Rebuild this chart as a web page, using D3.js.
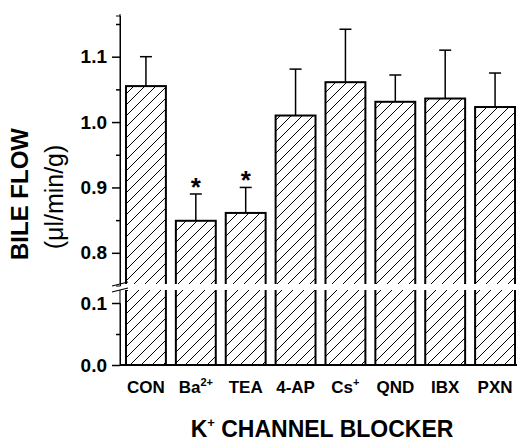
<!DOCTYPE html>
<html>
<head>
<meta charset="utf-8">
<script src="https://cdn.jsdelivr.net/npm/d3@7"></script>
<style>
  body { margin: 0; background: #fff; }
  text { font-family: Arial, "Liberation Sans", sans-serif; }
</style>
</head>
<body>
<div id="chart"></div>
<script>
// bile flow by K+ channel blocker (broken y axis)
var blockers = ["CON", "Ba", "TEA", "4-AP", "Cs", "QND", "IBX", "PXN"];
var blockerSup = ["", "2+", "", "", "+", "", "", ""];
var flow = [1.055, 0.849, 0.861, 1.010, 1.061, 1.031, 1.036, 1.023];
var sem = [0.045, 0.041, 0.039, 0.071, 0.081, 0.041, 0.074, 0.052];
var signif = [false, true, true, false, false, false, false, false];
var upperTicks = [0.8, 0.9, 1.0, 1.1];
var upperMinor = [0.85, 0.95, 1.05, 1.15];
var lowerTicks = [0.0, 0.1];
var lowerMinor = [0.05];

var W = 518, H = 444;
var axX = 120, y0 = 365, breakTop = 284, breakBot = 290;

var svg = d3.select("#chart").append("svg")
  .attr("width", W).attr("height", H);

var defs = svg.append("defs");
var pat = defs.append("pattern")
  .attr("id", "hatch")
  .attr("patternUnits", "userSpaceOnUse")
  .attr("width", 11).attr("height", 11);
pat.append("rect").attr("width", 11).attr("height", 11).attr("fill", "#fff");
pat.append("path")
  .attr("d", "M-1,12 L12,-1 M-3,3 L3,-3 M8,14 L14,8")
  .attr("stroke", "#000").attr("stroke-width", 1);

var x = d3.scaleBand().domain(blockers).range([121, 520]).paddingInner(0.2).paddingOuter(0.1);
var yUp = d3.scaleLinear().domain([0.75, 1.163]).range([285.5, 15.5]);
var yLo = d3.scaleLinear().domain([0, 0.1]).range([y0, 303]);

// bars (drawn full height, the break gap is painted over them)
svg.selectAll("rect.bar")
  .data(blockers).enter()
  .append("rect")
  .attr("class", "bar")
  .attr("x", function(d) { return x(d); })
  .attr("width", x.bandwidth())
  .attr("y", function(d, i) { return yUp(flow[i]); })
  .attr("height", function(d, i) { return y0 - yUp(flow[i]); })
  .attr("fill", "url(#hatch)")
  .attr("stroke", "#000")
  .attr("stroke-width", 2);

// error bars (upper only)
var err = svg.append("g").attr("stroke", "#000").attr("stroke-width", 1.5);
blockers.forEach(function(d, i) {
  var cx = x(d) + x.bandwidth() / 2;
  err.append("line")
    .attr("x1", cx).attr("x2", cx)
    .attr("y1", yUp(flow[i])).attr("y2", yUp(flow[i] + sem[i]));
  err.append("line")
    .attr("x1", cx - 6).attr("x2", cx + 6)
    .attr("y1", yUp(flow[i] + sem[i])).attr("y2", yUp(flow[i] + sem[i]));
  if (signif[i]) {
    svg.append("text")
      .attr("x", cx).attr("y", yUp(flow[i] + sem[i]) + 2)
      .attr("text-anchor", "middle")
      .attr("font-size", 26).attr("font-weight", "bold")
      .text("*");
  }
});

// white gap for the axis break
svg.append("rect")
  .attr("x", axX - 10).attr("y", breakTop)
  .attr("width", W).attr("height", breakBot - breakTop)
  .attr("fill", "#fff");

// upper y axis
var axUp = svg.append("g").attr("transform", "translate(" + axX + ",0)")
  .call(d3.axisLeft(yUp).tickValues(upperTicks).tickSize(8).tickPadding(5)
    .tickFormat(d3.format(".1f")));
axUp.append("g").call(d3.axisLeft(yUp).tickValues(upperMinor).tickSize(4).tickFormat(""));

// lower y axis
var axLo = svg.append("g").attr("transform", "translate(" + axX + ",0)")
  .call(d3.axisLeft(yLo).tickValues(lowerTicks).tickSize(8).tickPadding(5)
    .tickFormat(d3.format(".1f")));
axLo.append("g").call(d3.axisLeft(yLo).tickValues(lowerMinor).tickSize(4).tickFormat(""));
axLo.select(".domain").remove();
axLo.append("line").attr("x1", 0).attr("x2", 0)
  .attr("y1", breakBot).attr("y2", y0).attr("stroke", "#000");
axUp.select(".domain").remove();
axUp.append("line").attr("x1", 0).attr("x2", 0)
  .attr("y1", 14).attr("y2", breakTop).attr("stroke", "#000");

svg.selectAll(".tick line").attr("stroke-width", 1.5);
svg.selectAll(".tick text")
  .attr("font-size", 19).attr("font-weight", "bold")
  .attr("font-family", "Arial, 'Liberation Sans', sans-serif");

// break marks
[breakTop, breakBot].forEach(function(yy) {
  svg.append("line")
    .attr("x1", axX - 8).attr("x2", axX + 8)
    .attr("y1", yy + 2).attr("y2", yy - 2)
    .attr("stroke", "#000").attr("stroke-width", 1.2);
});

// x axis
svg.append("line")
  .attr("x1", axX).attr("x2", 517)
  .attr("y1", y0).attr("y2", y0)
  .attr("stroke", "#000").attr("stroke-width", 2);

var xl = svg.append("g");
blockers.forEach(function(d, i) {
  var t = xl.append("text")
    .attr("x", x(d) + x.bandwidth() / 2).attr("y", 393)
    .attr("text-anchor", "middle")
    .attr("font-size", 17).attr("font-weight", "bold");
  t.append("tspan").text(d);
  if (blockerSup[i]) {
    t.append("tspan").attr("font-size", 11).attr("dy", -7).text(blockerSup[i]);
  }
});

// axis titles
var xt = svg.append("text")
  .attr("x", 322).attr("y", 437)
  .attr("text-anchor", "middle")
  .attr("font-size", 23).attr("font-weight", "bold");
xt.append("tspan").text("K");
xt.append("tspan").attr("font-size", 13).attr("dy", -10).text("+");
xt.append("tspan").attr("dy", 10).text(" CHANNEL BLOCKER");

svg.append("text")
  .attr("transform", "translate(28,194) rotate(-90)")
  .attr("text-anchor", "middle")
  .attr("font-size", 24).attr("font-weight", "bold")
  .text("BILE FLOW");
svg.append("text")
  .attr("transform", "translate(63,197) rotate(-90)")
  .attr("text-anchor", "middle")
  .attr("font-size", 25)
  .text("(\u03bcl/min/g)");
</script>
</body>
</html>
